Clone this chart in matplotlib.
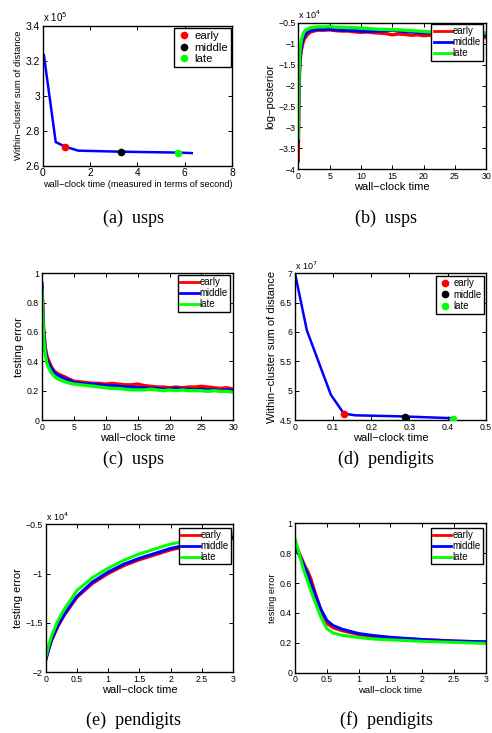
import matplotlib
matplotlib.use('Agg')
import matplotlib.pyplot as plt
from matplotlib.lines import Line2D
from matplotlib.ticker import FuncFormatter

W, H = 492, 733
plt.rcParams['font.family'] = ['Liberation Sans', 'DejaVu Sans']

RED, BLUE, GREEN, BLACK = '#ff0000', '#0000ff', '#00ff00', '#000000'
LABELS = ['early', 'middle', 'late']

# --- (a) usps: k-means objective (x 10^5) ---
a_time = [0.05, 0.55, 0.93, 1.5, 3.3, 5.7, 6.3]
a_obj = [3.232, 2.735, 2.71, 2.686, 2.68, 2.675, 2.672]
a_mark_t = [0.93, 3.3, 5.7]
a_mark_v = [2.709, 2.678, 2.674]

# --- (b) usps: log-posterior (x 10^4) ---
b_time = [0, 0.05, 0.1, 0.2, 0.3, 0.5, 0.75, 1, 1.5, 2, 2.5, 3,
          4, 5, 6, 7, 8, 9, 10, 11, 12, 13, 14, 15, 16, 17, 18, 19, 20,
          21, 22, 23, 24, 25, 26, 27, 28, 29, 30]
b_red = [-3.80, -3.0, -2.3, -1.7, -1.4, -1.15, -0.98, -0.88, -0.78, -0.72, -0.70, -0.68,
         -0.68, -0.67, -0.69, -0.70, -0.70, -0.72, -0.73, -0.72, -0.74, -0.75, -0.76, -0.79,
         -0.77, -0.78, -0.80, -0.79, -0.81, -0.80, -0.82, -0.81, -0.80, -0.82, -0.83, -0.81,
         -0.84, -0.83, -0.86]
b_blue = [-3.30, -2.6, -2.0, -1.55, -1.3, -1.05, -0.90, -0.80, -0.73, -0.68, -0.67, -0.66,
          -0.66, -0.66, -0.67, -0.68, -0.68, -0.69, -0.70, -0.71, -0.70, -0.70, -0.69, -0.68,
          -0.70, -0.71, -0.72, -0.73, -0.74, -0.74, -0.75, -0.74, -0.76, -0.75, -0.76, -0.77,
          -0.76, -0.78, -0.80]
b_green = [-3.25, -2.4, -1.8, -1.35, -1.1, -0.9, -0.78, -0.70, -0.65, -0.62, -0.61, -0.60,
           -0.60, -0.59, -0.61, -0.61, -0.62, -0.62, -0.63, -0.64, -0.65, -0.66, -0.66, -0.67,
           -0.67, -0.68, -0.69, -0.70, -0.71, -0.72, -0.71, -0.72, -0.73, -0.72, -0.73, -0.74,
           -0.73, -0.74, -0.75]

# --- (c) usps: testing error ---
c_time = [0, 0.1, 0.25, 0.5, 0.75, 1, 1.5, 2, 2.5, 3,
          4, 5, 6, 7, 8, 9, 10, 11, 12, 13, 14, 15, 16, 17, 18, 19, 20,
          21, 22, 23, 24, 25, 26, 27, 28, 29, 30]
c_red = [0.90, 0.80, 0.63, 0.50, 0.44, 0.41, 0.36, 0.33, 0.315, 0.305,
         0.285, 0.265, 0.26, 0.255, 0.25, 0.25, 0.245, 0.25, 0.245, 0.24, 0.24, 0.245,
         0.235, 0.23, 0.225, 0.225, 0.22, 0.225, 0.22, 0.225, 0.225, 0.23, 0.225, 0.22,
         0.215, 0.22, 0.21]
c_blue = [0.93, 0.78, 0.60, 0.48, 0.42, 0.39, 0.35, 0.32, 0.305, 0.295,
          0.275, 0.255, 0.25, 0.245, 0.245, 0.24, 0.235, 0.235, 0.23, 0.225, 0.225, 0.22,
          0.22, 0.215, 0.215, 0.21, 0.21, 0.215, 0.21, 0.21, 0.205, 0.21, 0.205, 0.205,
          0.20, 0.205, 0.20]
c_green = [0.88, 0.74, 0.56, 0.45, 0.39, 0.36, 0.32, 0.295, 0.28, 0.27,
           0.255, 0.245, 0.24, 0.235, 0.23, 0.225, 0.22, 0.215, 0.215, 0.21, 0.205, 0.205,
           0.205, 0.21, 0.205, 0.20, 0.205, 0.20, 0.205, 0.20, 0.20, 0.20, 0.195, 0.20,
           0.195, 0.195, 0.19]

# --- (d) pendigits: k-means objective (x 10^7) ---
d_time = [0.0, 0.031, 0.094, 0.128, 0.157, 0.288, 0.415]
d_obj = [7.0, 6.03, 4.93, 4.61, 4.58, 4.56, 4.53]
d_mark_t = [0.128, 0.288, 0.415]
d_mark_v = [4.61, 4.555, 4.525]

# --- (e) pendigits (x 10^4) ---
e_time = [0, 0.05, 0.1, 0.2, 0.3, 0.5, 0.75, 1, 1.25, 1.5, 2, 2.5, 3]
e_red = [-1.87, -1.76, -1.67, -1.53, -1.42, -1.24, -1.10, -1.00, -0.92, -0.86, -0.76, -0.69, -0.645]
e_blue = [-1.88, -1.76, -1.66, -1.52, -1.41, -1.23, -1.085, -0.985, -0.905, -0.845, -0.745, -0.675, -0.63]
e_green = [-1.85, -1.72, -1.62, -1.47, -1.36, -1.17, -1.04, -0.945, -0.865, -0.80, -0.70, -0.64, -0.60]

# --- (f) pendigits: testing error ---
f_time = [0, 0.05, 0.1, 0.15, 0.2, 0.25, 0.3, 0.4, 0.5, 0.6, 0.75, 1, 1.25, 1.5, 2, 2.5, 3]
f_red = [0.87, 0.82, 0.77, 0.72, 0.68, 0.63, 0.56, 0.43, 0.33, 0.30, 0.28, 0.255, 0.24, 0.232, 0.222, 0.212, 0.205]
f_blue = [0.85, 0.80, 0.76, 0.71, 0.66, 0.60, 0.54, 0.43, 0.35, 0.315, 0.29, 0.262, 0.248, 0.237, 0.222, 0.212, 0.207]
f_green = [0.90, 0.82, 0.74, 0.67, 0.61, 0.55, 0.49, 0.38, 0.295, 0.265, 0.25, 0.235, 0.225, 0.22, 0.21, 0.203, 0.196]


fig = plt.figure(figsize=(W / 100, H / 100), dpi=100)
fmt = FuncFormatter(lambda v, p: f'{v:g}'.replace('-', '\u2212'))


def px_axes(l, t, r, b):
    """axes from pixel box (left, top, right, bottom)"""
    ax = fig.add_axes([l / W, 1 - b / H, (r - l) / W, (b - t) / H])
    ax.tick_params(direction='in', top=True, right=True, length=3, width=0.7,
                   labelsize=6.3, pad=2, colors='black')
    for s in ax.spines.values():
        s.set_linewidth(1.0)
    ax.xaxis.set_major_formatter(fmt)
    ax.yaxis.set_major_formatter(fmt)
    return ax


def px_legend(ax, handles, right, top, fontsize, **kw):
    leg = ax.legend(handles, LABELS, loc='upper right',
                    bbox_to_anchor=(right / W, 1 - top / H), bbox_transform=fig.transFigure,
                    fontsize=fontsize, fancybox=False, framealpha=1, edgecolor='black',
                    borderaxespad=0, **kw)
    leg.get_frame().set_linewidth(1.0)
    return leg


def exponent(ax, e, size=6.5):
    ax.text(0.0, 1.01, r'x 10$^{%d}$' % e, transform=ax.transAxes,
            ha='left', va='bottom', fontsize=size)


def caption(text, xc, yc):
    fig.text(xc / W, 1 - yc / H, text, ha='center', va='center',
             fontsize=13, family=['Liberation Serif', 'DejaVu Serif'])


def line_handles():
    return [Line2D([], [], color=c, lw=2) for c in (RED, BLUE, GREEN)]


def dot_handles(size):
    return [Line2D([], [], color=c, marker='o', ls='none', markersize=size)
            for c in (RED, BLACK, GREEN)]


# (a)
ax = px_axes(42.7, 25.7, 232, 165.7)
ax.plot(a_time, a_obj, color=BLUE, lw=1.8, zorder=2)
for t, v, c in zip(a_mark_t, a_mark_v, (RED, BLACK, GREEN)):
    ax.plot(t, v, 'o', color=c, markersize=4.5, zorder=3)
ax.set_xlim(0, 8)
ax.set_ylim(2.6, 3.4)
ax.set_xticks([0, 2, 4, 6, 8])
ax.set_yticks([2.6, 2.8, 3.0, 3.2, 3.4])
ax.tick_params(labelsize=7.4)
ax.set_xlabel('wall\u2212clock time (measured in terms of second)', fontsize=6.6, labelpad=1)
ax.set_ylabel('Within\u2212cluster sum of distance', fontsize=6.8, labelpad=2)
exponent(ax, 5, 7)
px_legend(ax, dot_handles(4.5), 230.7, 28, 8.2, handlelength=1.2, handletextpad=0.3,
          borderpad=0.25, labelspacing=0.15)
caption('(a)  usps', 133.5, 218)

# (b)
ax = px_axes(298.3, 22.7, 486.3, 169.3)
for y, c in ((b_red, RED), (b_blue, BLUE), (b_green, GREEN)):
    ax.plot(b_time, y, color=c, lw=2.4)
ax.set_xlim(0, 30)
ax.set_ylim(-4, -0.5)
ax.set_xticks([0, 5, 10, 15, 20, 25, 30])
ax.set_yticks([-4, -3.5, -3, -2.5, -2, -1.5, -1, -0.5])
ax.set_xlabel('wall\u2212clock time', fontsize=8, labelpad=1)
ax.set_ylabel('log\u2212posterior', fontsize=8, labelpad=2)
exponent(ax, 4)
px_legend(ax, line_handles(), 483.3, 24, 6.9, handlelength=1.9, handletextpad=0.1,
          borderpad=0.25, labelspacing=0.1)
caption('(b)  usps', 386, 218)

# (c)
ax = px_axes(42, 273.3, 233.3, 420)
for y, c in ((c_red, RED), (c_blue, BLUE), (c_green, GREEN)):
    ax.plot(c_time, y, color=c, lw=2.4)
ax.set_xlim(0, 30)
ax.set_ylim(0, 1)
ax.set_xticks([0, 5, 10, 15, 20, 25, 30])
ax.set_yticks([0, 0.2, 0.4, 0.6, 0.8, 1])
ax.set_xlabel('wall\u2212clock time', fontsize=8, labelpad=1)
ax.set_ylabel('testing error', fontsize=8, labelpad=2)
px_legend(ax, line_handles(), 230, 275, 6.9, handlelength=1.9, handletextpad=0.1,
          borderpad=0.25, labelspacing=0.1)
caption('(c)  usps', 133.5, 459)

# (d)
ax = px_axes(295, 273.3, 485.7, 420)
ax.plot(d_time, d_obj, color=BLUE, lw=1.8, zorder=2)
for t, v, c in zip(d_mark_t, d_mark_v, (RED, BLACK, GREEN)):
    ax.plot(t, v, 'o', color=c, markersize=4.5, zorder=3)
ax.set_xlim(0, 0.5)
ax.set_ylim(4.5, 7)
ax.set_xticks([0, 0.1, 0.2, 0.3, 0.4, 0.5])
ax.set_yticks([4.5, 5, 5.5, 6, 6.5, 7])
ax.set_xlabel('wall\u2212clock time', fontsize=8, labelpad=1)
ax.set_ylabel('Within\u2212cluster sum of distance', fontsize=8, labelpad=2)
exponent(ax, 7)
px_legend(ax, dot_handles(4.5), 483.7, 276, 6.9, handlelength=1.2, handletextpad=0.3,
          borderpad=0.25, labelspacing=0.15)
caption('(d)  pendigits', 386, 459)

# (e)
ax = px_axes(45.7, 524.3, 233, 672.3)
for y, c in ((e_red, RED), (e_blue, BLUE), (e_green, GREEN)):
    ax.plot(e_time, y, color=c, lw=2.2)
ax.set_xlim(0, 3)
ax.set_ylim(-2, -0.5)
ax.set_xticks([0, 0.5, 1, 1.5, 2, 2.5, 3])
ax.set_yticks([-2, -1.5, -1, -0.5])
ax.set_xlabel('wall\u2212clock time', fontsize=8, labelpad=1)
ax.set_ylabel('testing error', fontsize=8, labelpad=2)
exponent(ax, 4)
px_legend(ax, line_handles(), 231, 527.7, 6.9, handlelength=1.9, handletextpad=0.1,
          borderpad=0.25, labelspacing=0.1)
caption('(e)  pendigits', 133.5, 720)

# (f)
ax = px_axes(295, 523.3, 485.7, 672.7)
for y, c in ((f_red, RED), (f_blue, BLUE), (f_green, GREEN)):
    ax.plot(f_time, y, color=c, lw=2.2)
ax.set_xlim(0, 3)
ax.set_ylim(0, 1)
ax.set_xticks([0, 0.5, 1, 1.5, 2, 2.5, 3])
ax.set_yticks([0, 0.2, 0.4, 0.6, 0.8, 1])
ax.set_xlabel('wall\u2212clock time', fontsize=6.8, labelpad=1)
ax.set_ylabel('testing error', fontsize=6.6, labelpad=2)
px_legend(ax, line_handles(), 482.7, 527.7, 6.9, handlelength=1.9, handletextpad=0.1,
          borderpad=0.25, labelspacing=0.1)
caption('(f)  pendigits', 386, 720)

fig.savefig('out.png', dpi=100, facecolor='white')
